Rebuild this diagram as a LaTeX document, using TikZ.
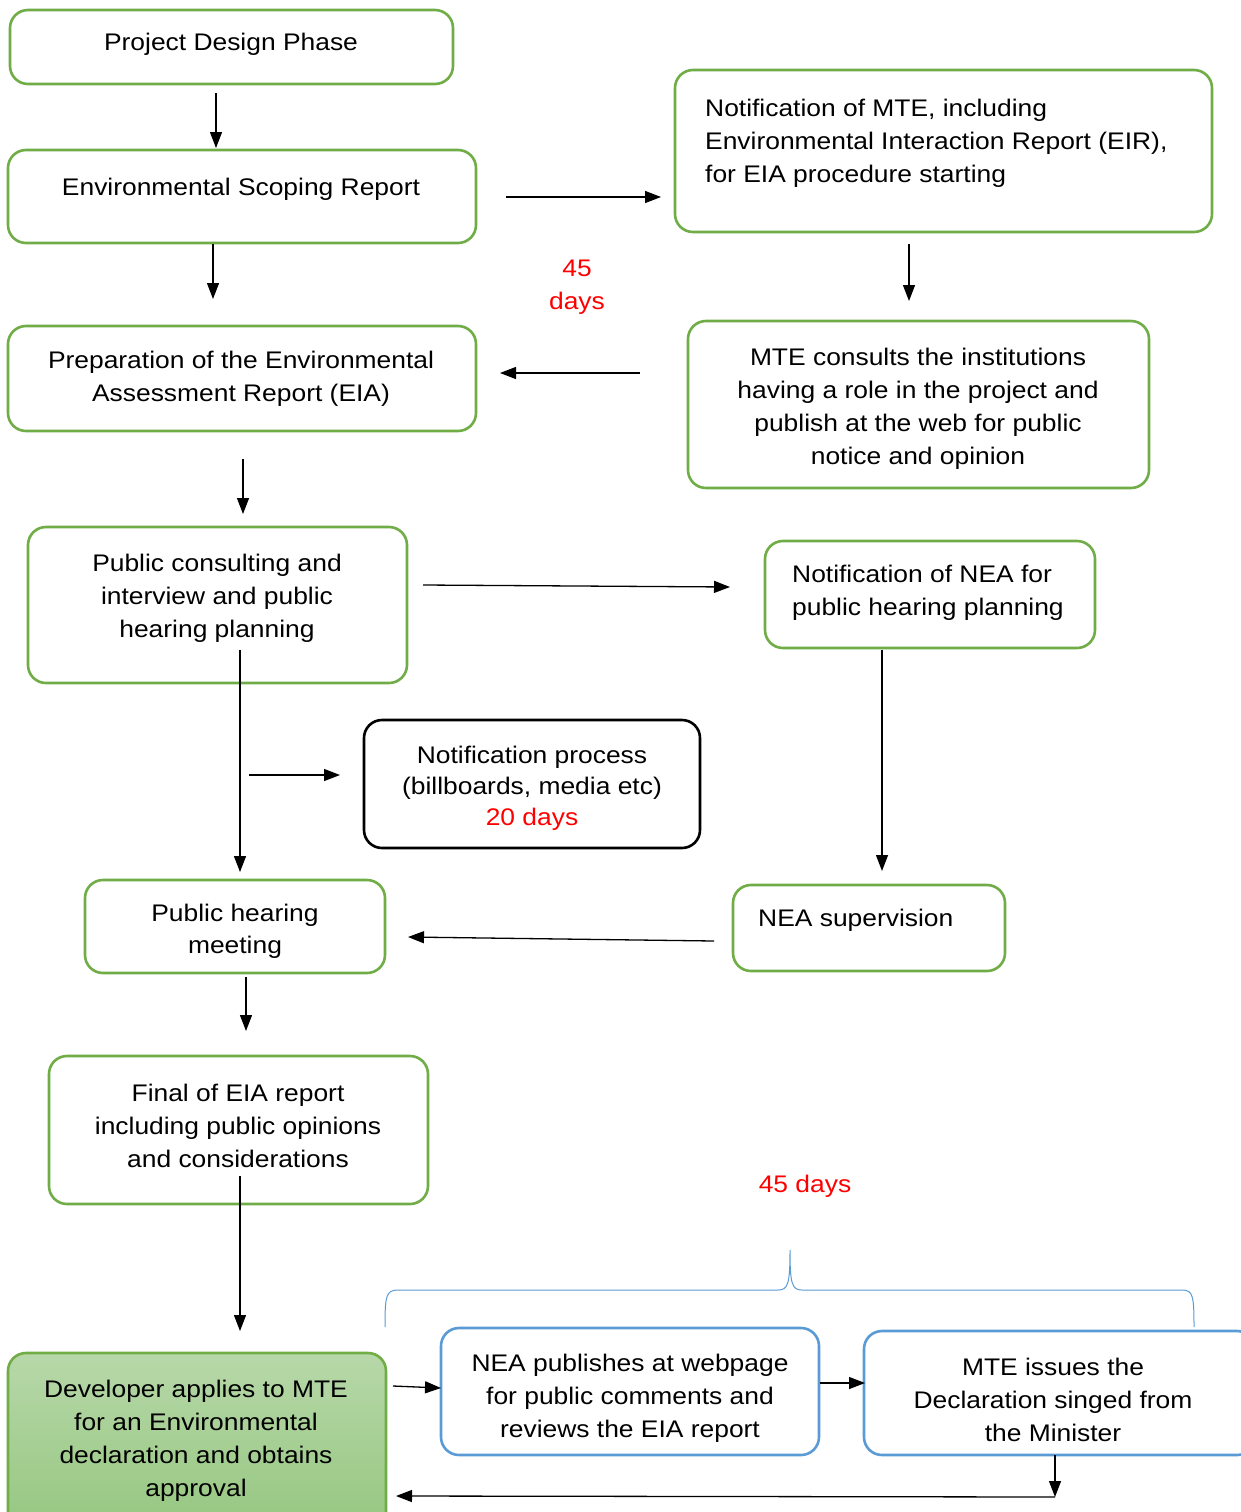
\documentclass[tikz,border=0pt]{standalone}
\usepackage{fontspec}
\setmainfont{Liberation Sans}[FakeStretch=1.1]
\usetikzlibrary{arrows.meta}
\definecolor{gborder}{HTML}{70AD47}
\definecolor{bborder}{HTML}{5B9BD5}
\definecolor{gtop}{HTML}{B7D8A9}
\definecolor{gbot}{HTML}{95C67F}
\tikzset{
  gbox/.style={draw=gborder, line width=2.6pt, rounded corners=18pt, inner sep=0pt},
  kbox/.style={draw=black, line width=2.6pt, rounded corners=18pt, inner sep=0pt},
  bbox/.style={draw=bborder, line width=2.6pt, rounded corners=18pt, inner sep=0pt},
  txt/.style={align=center, inner sep=0pt, yshift=-3pt, font=\fontsize{24}{33}\selectfont},
  ltxt/.style={align=left, anchor=west, inner sep=0pt, yshift=-3pt, font=\fontsize{24}{33}\selectfont},
  redtxt/.style={txt, text=red},
  arr/.style={line width=1.3pt, -{Triangle[length=16pt,width=12pt]}},
  brace/.style={draw=bborder, line width=1pt}
}
\begin{document}
\begin{tikzpicture}[x=1pt,y=-1pt]
\useasboundingbox (0,0) rectangle (1241,1512);
\fill[white] (0,0) rectangle (1241,1512);
\begin{scope}
\clip (0,0) rectangle (1241,1512);
% boxes
\node[gbox, minimum width=443, minimum height=74] (b1) at (231.5,47) {};
\node[gbox, minimum width=468, minimum height=93] (b2) at (242,196.5) {};
\node[gbox, minimum width=537, minimum height=162] (b3) at (943.5,151) {};
\node[gbox, minimum width=461, minimum height=167] (b4) at (918.5,404.5) {};
\node[gbox, minimum width=468, minimum height=105] (b5) at (242,378.5) {};
\node[gbox, minimum width=379, minimum height=156] (b6) at (217.5,605) {};
\node[gbox, minimum width=330, minimum height=107] (b7) at (930,594.5) {};
\node[kbox, minimum width=336, minimum height=128] (b8) at (532,784) {};
\node[gbox, minimum width=300, minimum height=93] (b9) at (235,926.5) {};
\node[gbox, minimum width=272, minimum height=86] (b10) at (869,928) {};
\node[gbox, minimum width=379, minimum height=148] (b11) at (238.5,1130) {};
\node[gbox, top color=gtop, bottom color=gbot, minimum width=378, minimum height=182] (b12) at (197,1444) {};
\node[bbox, minimum width=378, minimum height=127] (b13) at (630,1391.5) {};
\node[bbox, minimum width=391, minimum height=124] (b14) at (1059.5,1393) {};
% texts
\node[txt] (t1) at (231,41) {Project Design Phase};
\node[txt] (t2) at (241,186) {Environmental Scoping Report};
\node[ltxt] (t3) at (705,140) {Notification of MTE, including\\Environmental Interaction Report (EIR),\\for EIA procedure starting};
\node[txt] (t4) at (918,406) {MTE consults the institutions\\having a role in the project and\\publish at the web for public\\notice and opinion};
\node[txt] (t5) at (241,375.5) {Preparation of the Environmental\\Assessment Report (EIA)};
\node[txt] (t6) at (217,595) {Public consulting and\\interview and public\\hearing planning};
\node[ltxt] (t7) at (792,589.5) {Notification of NEA for\\public hearing planning};
\node[txt, font=\fontsize{24}{31}\selectfont] (t8) at (532,785) {Notification process\\(billboards, media etc)\\\textcolor{red}{20 days}};
\node[txt, font=\fontsize{24}{32}\selectfont] (t9) at (235,928) {Public hearing\\meeting};
\node[ltxt] (t10) at (758,917) {NEA supervision};
\node[txt] (t11) at (238,1123) {Final of EIA report\\including public opinions\\and considerations};
\node[txt] (t12) at (196,1437.5) {Developer applies to MTE\\for an Environmental\\declaration and obtains\\approval};
\node[txt] (t13) at (630,1395) {NEA publishes at webpage\\for public comments and\\reviews the EIA report};
\node[txt] (t14) at (1053,1397) {MTE issues the\\Declaration singed from\\the Minister};
\node[redtxt] (d1) at (577,284.5) {45\\days};
\node[redtxt] (d2) at (805,1183) {45 days};
% arrow end points
\coordinate (a1s) at (216,93);   \coordinate (a1e) at (216,148);
\coordinate (a2s) at (506,197);  \coordinate (a2e) at (661,197);
\coordinate (a3s) at (909,244);  \coordinate (a3e) at (909,301);
\coordinate (a4s) at (213,244);  \coordinate (a4e) at (213,299);
\coordinate (a5s) at (640,373);  \coordinate (a5e) at (500,373);
\coordinate (a6s) at (243,459);  \coordinate (a6e) at (243,514);
\coordinate (a7s) at (423,585);  \coordinate (a7e) at (730,587);
\coordinate (a8s) at (240,650);  \coordinate (a8e) at (240,872);
\coordinate (a9s) at (249,775);  \coordinate (a9e) at (340,775);
\coordinate (a10s) at (882,650); \coordinate (a10e) at (882,871);
\coordinate (a11s) at (714,941); \coordinate (a11e) at (408,937);
\coordinate (a12s) at (246,977); \coordinate (a12e) at (246,1031);
\coordinate (a13s) at (240,1176);\coordinate (a13e) at (240,1331);
\coordinate (a14s) at (393,1386);\coordinate (a14e) at (441,1388);
\coordinate (a15s) at (820,1383);\coordinate (a15e) at (865,1383);
\coordinate (a16s) at (1055,1455);\coordinate (a16e) at (1055,1497);
\coordinate (a17e) at (396,1496);
% arrows
\draw[arr] (a1s) -- (a1e);
\draw[arr] (a2s) -- (a2e);
\draw[arr] (a3s) -- (a3e);
\draw[arr] (a4s) -- (a4e);
\draw[arr] (a5s) -- (a5e);
\draw[arr] (a6s) -- (a6e);
\draw[arr] (a7s) -- (a7e);
\draw[arr] (a8s) -- (a8e);
\draw[arr] (a9s) -- (a9e);
\draw[arr] (a10s) -- (a10e);
\draw[arr] (a11s) -- (a11e);
\draw[arr] (a12s) -- (a12e);
\draw[arr] (a13s) -- (a13e);
\draw[arr] (a14s) -- (a14e);
\draw[arr] (a15s) -- (a15e);
\draw[arr] (a16s) -- (a16e);
\draw[arr] (a16e) -- (a17e);
% brace
\coordinate (brL) at (385,1327);
\coordinate (brT) at (790,1250);
\coordinate (brR) at (1194,1327);
\draw[brace] (brL) .. controls (385,1296) and (386,1290) .. (398,1290) -- (778,1290)
  .. controls (788,1290) and (790,1284) .. (brT)
  .. controls (790,1284) and (792,1290) .. (802,1290) -- (1182,1290)
  .. controls (1193,1290) and (1194,1296) .. (brR);
\end{scope}
\end{tikzpicture}
\end{document}
